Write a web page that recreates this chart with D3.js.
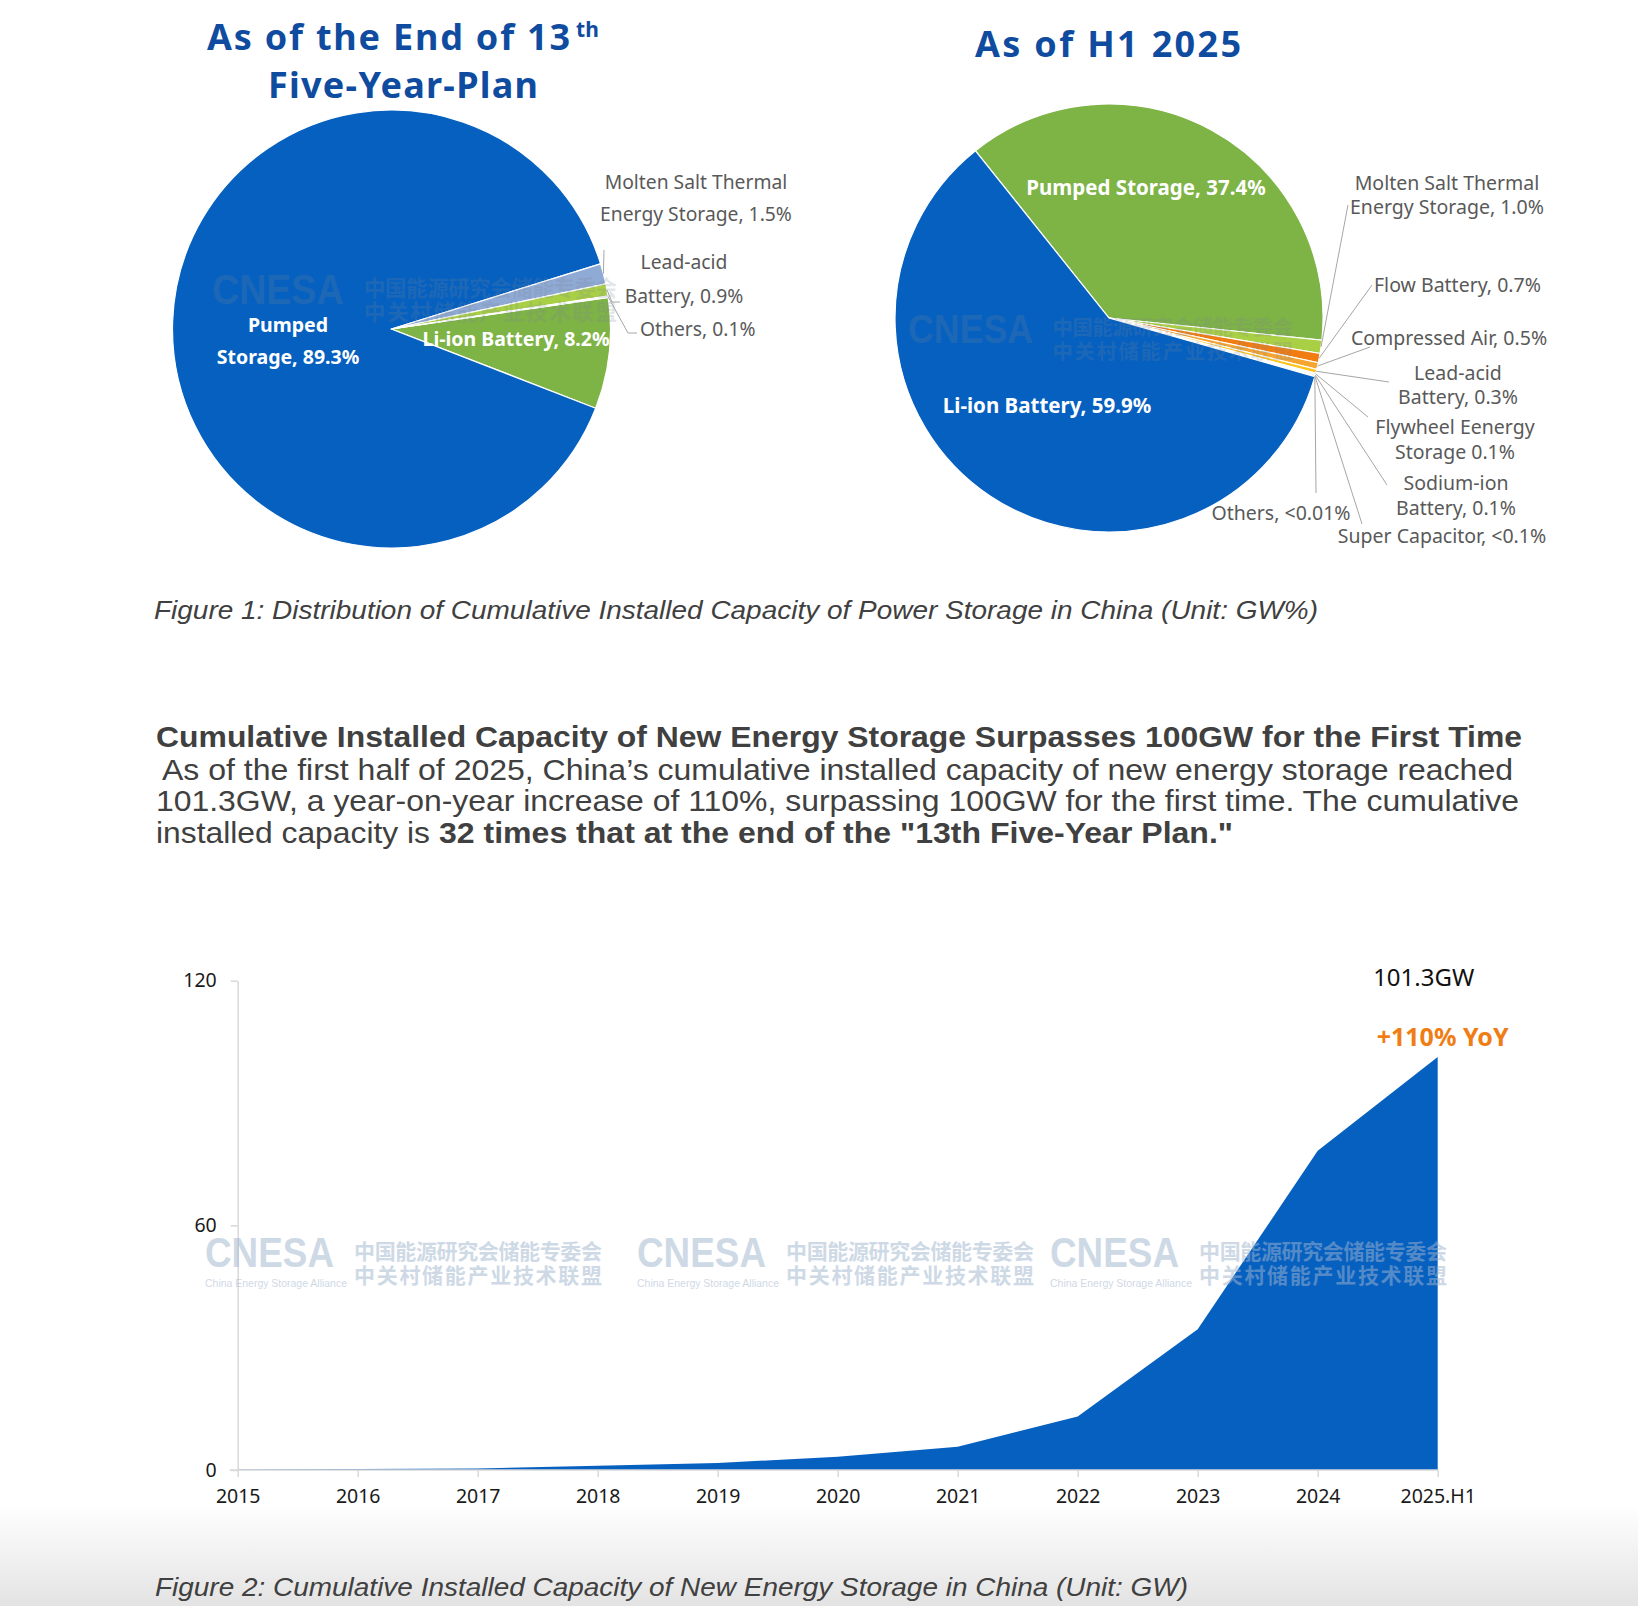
<!DOCTYPE html>
<html>
<head>
<meta charset="utf-8">
<script src="https://cdn.jsdelivr.net/npm/d3@7.9.0/dist/d3.min.js"></script>
<style>
  html, body { margin: 0; padding: 0; background: #fff; }
  svg { display: block; }
</style>
</head>
<body>
<svg id="chart" width="1638" height="1606"></svg>
<script>
// ---- data: end of 13th Five-Year-Plan ----
const plan13Names = ["Li-ion Battery", "Pumped Storage", "Molten Salt Thermal Energy Storage", "Lead-acid Battery", "Others"];
const plan13Share = [8.2, 89.3, 1.5, 0.9, 0.1];
const plan13Lines = [
  ["Li-ion Battery, 8.2%"],
  ["Pumped", "Storage, 89.3%"],
  ["Molten Salt Thermal", "Energy Storage, 1.5%"],
  ["Lead-acid", "Battery, 0.9%"],
  ["Others, 0.1%"]
];

// ---- data: H1 2025 ----
const h1Names = ["Pumped Storage", "Molten Salt Thermal Energy Storage", "Flow Battery", "Compressed Air", "Lead-acid Battery",
  "Flywheel Energy Storage", "Sodium-ion Battery", "Super Capacitor", "Others", "Li-ion Battery"];
const h1Share = [37.4, 1.0, 0.7, 0.5, 0.3, 0.1, 0.1, 0.05, 0.01, 59.9];
const h1Lines = [
  ["Pumped Storage, 37.4%"],
  ["Molten Salt Thermal", "Energy Storage, 1.0%"],
  ["Flow Battery, 0.7%"],
  ["Compressed Air, 0.5%"],
  ["Lead-acid", "Battery, 0.3%"],
  ["Flywheel Eenergy", "Storage 0.1%"],
  ["Sodium-ion", "Battery, 0.1%"],
  ["Super Capacitor, <0.1%"],
  ["Others, <0.01%"],
  ["Li-ion Battery, 59.9%"]
];

// ---- data: cumulative new energy storage (GW) ----
const years = ["2015", "2016", "2017", "2018", "2019", "2020", "2021", "2022", "2023", "2024", "2025.H1"];
const capacityGW = [0.1, 0.24, 0.39, 1.07, 1.71, 3.28, 5.73, 13.1, 34.5, 78.3, 101.3];
const yTicks = [0, 60, 120];

const BLUE = "#0660C0";
const GREEN = "#7EB346";
const TITLE = "#0F4C9F";
const LABEL = "#595959";
const SANS = "'Noto Sans', 'Open Sans', sans-serif";
const ARIAL = "'Liberation Sans', Arial, sans-serif";

const svg = d3.select("#chart");

// bottom grey fade
const defs = svg.append("defs");
const grad = defs.append("linearGradient").attr("id", "fade").attr("x1", 0).attr("y1", 0).attr("x2", 0).attr("y2", 1);
grad.append("stop").attr("offset", "0%").attr("stop-color", "#ffffff");
grad.append("stop").attr("offset", "100%").attr("stop-color", "#e3e3e3");
svg.append("rect").attr("x", 0).attr("y", 1505).attr("width", 1638).attr("height", 101).attr("fill", "url(#fade)");

function watermark(g, x, y, s, fill, op, small) {
  const w = g.append("g")
    .attr("transform", `translate(${x},${y}) scale(${s})`)
    .attr("fill", fill).attr("opacity", op);
  w.append("text").attr("font-family", ARIAL).attr("font-weight", 700).attr("font-size", 42)
    .attr("textLength", 129).attr("lengthAdjust", "spacingAndGlyphs").text("CNESA");
  if (small) {
    w.append("text").attr("y", 20).attr("font-family", ARIAL).attr("font-size", 10.5)
      .attr("textLength", 142).attr("lengthAdjust", "spacingAndGlyphs").text("China Energy Storage Alliance");
  }
  w.append("text").attr("x", 149).attr("y", -8).attr("font-family", "'Noto Sans CJK SC', sans-serif")
    .attr("font-size", 21).attr("font-weight", 700)
    .attr("textLength", 248).attr("lengthAdjust", "spacing").text("中国能源研究会储能专委会");
  w.append("text").attr("x", 149).attr("y", 16).attr("font-family", "'Noto Sans CJK SC', sans-serif")
    .attr("font-size", 21).attr("font-weight", 700)
    .attr("textLength", 248).attr("lengthAdjust", "spacing").text("中关村储能产业技术联盟");
}

function multiLine(g, x, ys, lines, opts) {
  const t = g.append("text")
    .attr("font-family", SANS)
    .attr("font-size", opts.size)
    .attr("font-weight", opts.weight || 400)
    .attr("fill", opts.fill)
    .attr("text-anchor", opts.anchor || "middle");
  lines.forEach((ln, i) => {
    t.append("tspan").attr("x", x).attr("y", ys[i]).attr("dy", "0.35em").text(ln);
  });
}

function drawPie(cfg) {
  const g = svg.append("g");
  const pie = d3.pie().sort(null).value(d => d)
    .startAngle(cfg.start * Math.PI / 180)
    .endAngle(cfg.start * Math.PI / 180 + 2 * Math.PI);
  const arcs = pie(cfg.values);
  const arc = d3.arc().innerRadius(0).outerRadius(cfg.r);
  const pg = g.append("g").attr("transform", `translate(${cfg.cx},${cfg.cy})`);
  pg.selectAll("path").data(arcs).join("path")
    .attr("d", arc)
    .attr("fill", (d, i) => cfg.colors[i])
    .attr("stroke", "#fff").attr("stroke-width", 1.2);

  watermark(g, cfg.wm[0], cfg.wm[1], cfg.wm[2], "#7a8696", 0.2, false);

  arcs.forEach((a, i) => {
    const L = cfg.layout[i];
    if (L.leader) {
      const mid = (a.startAngle + a.endAngle) / 2;
      const sx = cfg.cx + cfg.r * Math.sin(mid);
      const sy = cfg.cy - cfg.r * Math.cos(mid);
      const pts = [[sx, sy]].concat(L.leader);
      g.append("path").attr("d", d3.line()(pts))
        .attr("fill", "none").attr("stroke", "#a6a6a6").attr("stroke-width", 1);
    }
    multiLine(g, L.x, L.ys, cfg.lines[i], {
      size: L.inside ? cfg.inSize : cfg.outSize,
      weight: L.inside ? 700 : 400,
      fill: L.inside ? "#ffffff" : LABEL,
      anchor: L.anchor
    });
  });
}

// ---- pie 1 ----
drawPie({
  cx: 391.5, cy: 329, r: 219, start: 81.7,
  values: plan13Share,
  colors: [GREEN, BLUE, "#8FAAD4", "#A9D045", "#F4F4F4"],
  lines: plan13Lines,
  inSize: 19.5, outSize: 19.3,
  wm: [212, 304, 1.02],
  layout: [
    { inside: true, x: 516, ys: [339] },
    { inside: true, x: 288, ys: [325, 357] },
    { x: 696, ys: [182, 214], leader: [[604, 250]] },
    { x: 684, ys: [262, 296], leader: [[612, 302], [620, 302]] },
    { x: 640, ys: [329], anchor: "start", leader: [[628, 333], [637, 333]] }
  ]
});

// ---- pie 2 ----
drawPie({
  cx: 1109, cy: 318, r: 214, start: 321.4,
  values: h1Share,
  colors: [GREEN, "#A9D045", "#F07C12", "#F6A531", "#FFC21A", "#C9D7EB", "#9DB9DE", "#DCE6F2", "#8EA9DB", BLUE],
  lines: h1Lines,
  inSize: 20.5, outSize: 19.5,
  wm: [908, 343, 0.97],
  layout: [
    { inside: true, x: 1146, ys: [188] },
    { x: 1447, ys: [183, 207], leader: [[1348, 205]] },
    { x: 1374, ys: [285], anchor: "start", leader: [[1372, 285]] },
    { x: 1449, ys: [338], leader: [[1370, 347]] },
    { x: 1458, ys: [373, 397], leader: [[1389, 382]] },
    { x: 1455, ys: [427, 452], leader: [[1368, 417]] },
    { x: 1456, ys: [483, 508], leader: [[1387, 485]] },
    { x: 1442, ys: [536], leader: [[1362, 524]] },
    { x: 1281, ys: [513], leader: [[1316, 493]] },
    { inside: true, x: 1047, ys: [406] }
  ]
});

// ---- pie titles ----
const titles = svg.append("g").attr("font-family", SANS).attr("font-weight", 700).attr("fill", TITLE);
titles.append("text").attr("x", 207).attr("y", 50).attr("font-size", 36)
  .attr("textLength", 363).attr("lengthAdjust", "spacing").text("As of the End of 13");
titles.append("text").attr("x", 576).attr("y", 37).attr("font-size", 21)
  .attr("textLength", 23).attr("lengthAdjust", "spacing").text("th");
titles.append("text").attr("x", 268).attr("y", 98).attr("font-size", 36)
  .attr("textLength", 270).attr("lengthAdjust", "spacing").text("Five-Year-Plan");
titles.append("text").attr("x", 975).attr("y", 57).attr("font-size", 36)
  .attr("textLength", 266).attr("lengthAdjust", "spacing").text("As of H1 2025");

// ---- captions and paragraph ----
const txt = svg.append("g").attr("font-family", ARIAL).attr("fill", "#404040");
txt.append("text").attr("x", 154).attr("y", 619).attr("font-size", 25).attr("font-style", "italic")
  .attr("textLength", 1164).attr("lengthAdjust", "spacingAndGlyphs")
  .text("Figure 1: Distribution of Cumulative Installed Capacity of Power Storage in China (Unit: GW%)");
txt.append("text").attr("x", 156).attr("y", 747).attr("font-size", 29.5).attr("font-weight", 700)
  .attr("textLength", 1366).attr("lengthAdjust", "spacingAndGlyphs")
  .text("Cumulative Installed Capacity of New Energy Storage Surpasses 100GW for the First Time");
txt.append("text").attr("x", 162).attr("y", 780).attr("font-size", 29.5)
  .attr("textLength", 1351).attr("lengthAdjust", "spacingAndGlyphs")
  .text("As of the first half of 2025, China\u2019s cumulative installed capacity of new energy storage reached");
txt.append("text").attr("x", 156).attr("y", 811).attr("font-size", 29.5)
  .attr("textLength", 1363).attr("lengthAdjust", "spacingAndGlyphs")
  .text("101.3GW, a year-on-year increase of 110%, surpassing 100GW for the first time. The cumulative");
txt.append("text").attr("x", 156).attr("y", 843).attr("font-size", 29.5)
  .attr("textLength", 274).attr("lengthAdjust", "spacingAndGlyphs")
  .text("installed capacity is");
txt.append("text").attr("x", 439).attr("y", 843).attr("font-size", 29.5).attr("font-weight", 700)
  .attr("textLength", 794).attr("lengthAdjust", "spacingAndGlyphs")
  .text("32 times that at the end of the \"13th Five-Year Plan.\"");
txt.append("text").attr("x", 155).attr("y", 1596).attr("font-size", 25).attr("font-style", "italic")
  .attr("textLength", 1033).attr("lengthAdjust", "spacingAndGlyphs")
  .text("Figure 2: Cumulative Installed Capacity of New Energy Storage in China (Unit: GW)");

// ---- area chart ----
const x = d3.scalePoint().domain(years).range([237.7, 1437.7]);
const y = d3.scaleLinear().domain([0, 120]).range([1470, 980.7]);
const chart = svg.append("g");

const area = d3.area()
  .x((d, i) => x(years[i]))
  .y0(y(0))
  .y1(d => y(d));
chart.append("path").datum(capacityGW).attr("d", area).attr("fill", BLUE);

const xAxis = chart.append("g").attr("transform", `translate(0,${y(0)})`)
  .call(d3.axisBottom(x).tickSize(7).tickSizeOuter(0).tickPadding(12));
const yAxis = chart.append("g").attr("transform", `translate(${x(years[0])},0)`)
  .call(d3.axisLeft(y).tickValues(yTicks).tickSize(7).tickSizeOuter(0).tickPadding(14));
[xAxis, yAxis].forEach(a => {
  a.select(".domain").attr("stroke", "#d9d9d9").attr("stroke-width", 1.5);
  a.selectAll(".tick line").attr("stroke", "#d9d9d9").attr("stroke-width", 1.5);
  a.selectAll("text").attr("font-family", SANS).attr("font-size", 19.5).attr("fill", "#1a1a1a");
});
xAxis.select(".domain").attr("d", `M${x(years[0]) - 8},0H${x(years[years.length - 1])}`);

watermark(chart, 205, 1267, 1, "#9fb4ce", 0.5, true);
watermark(chart, 637, 1267, 1, "#9fb4ce", 0.5, true);
watermark(chart, 1050, 1267, 1, "#9fb4ce", 0.5, true);

const last = years.length - 1;
chart.append("text").attr("x", x(years[last]) - 14).attr("y", 978).attr("dy", "0.35em")
  .attr("text-anchor", "middle").attr("font-family", SANS).attr("font-size", 24).attr("fill", "#111")
  .text(d3.format(".1f")(capacityGW[last]) + "GW");
chart.append("text").attr("x", x(years[last]) + 5).attr("y", 1037).attr("dy", "0.35em")
  .attr("text-anchor", "middle").attr("font-family", SANS).attr("font-size", 25).attr("font-weight", 700)
  .attr("fill", "#F07D14").text("+110% YoY");
</script>
</body>
</html>
